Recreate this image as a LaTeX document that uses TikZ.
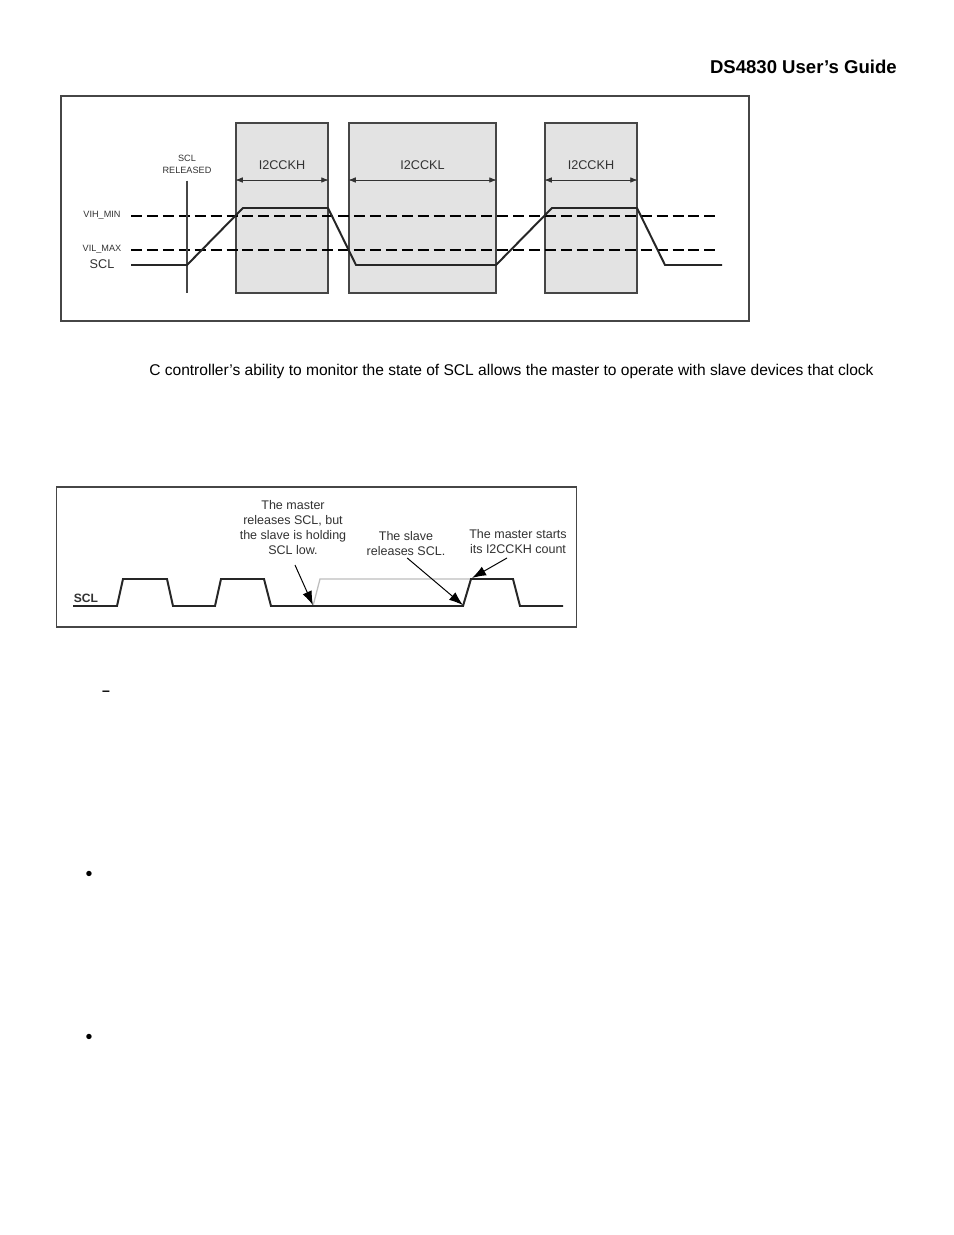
\documentclass[tikz,border=0pt]{standalone}
\usepackage{fontspec}
\setmainfont{Liberation Sans}
\usepackage{xcolor}
\usetikzlibrary{arrows.meta,positioning,calc}
\definecolor{boxgray}{RGB}{227,227,227}
\definecolor{edgegray}{RGB}{70,70,70}
\definecolor{tracegray}{RGB}{190,190,190}
\definecolor{inkgray}{RGB}{50,50,50}

\begin{document}
\begin{tikzpicture}[
    frame/.style={draw=edgegray, line width=0.9pt},
    pulsebox/.style={draw=edgegray, fill=boxgray, line width=0.9pt, minimum height=4.25cm},
    threshold/.style={line width=1.7pt, dash pattern=on 7.8pt off 3.53pt, black},
    trace/.style={line width=1.4pt, black!85},
    dim/.style={Latex-Latex, line width=0.5pt, inkgray},
    callout/.style={-{Latex[length=10pt,width=7pt]}, line width=0.7pt, black},
    label/.style={font=\fontsize{9pt}{11pt}\selectfont, text=inkgray},
    smalltext/.style={font=\fontsize{6.5pt}{8pt}\selectfont, text=inkgray, align=center},
    note/.style={font=\fontsize{8.9pt}{10.7pt}\selectfont, text=inkgray, align=center, inner sep=0pt},
    page/.style={font=\fontsize{11.07pt}{13pt}\selectfont, text=black, inner sep=0pt}
]
\useasboundingbox (0,0) rectangle (23.85,-30.875);
\fill[white] (0,0) rectangle (23.85,-30.875);

% page text
\node[page, font=\fontsize{13.2pt}{15pt}\selectfont\bfseries, anchor=east] (title) at (22.425,-1.675) {DS4830 User’s Guide};
\node[page, anchor=west] (para) at (3.725,-9.28) {C controller’s ability to monitor the state of SCL allows the master to operate with slave devices that clock};
\node[page, font=\bfseries] (dash) at (2.65,-17.33) {–};
\node[page, font=\fontsize{14pt}{16pt}\selectfont] (bulleta) at (2.225,-21.9) {•};
\node[page, font=\fontsize{14pt}{16pt}\selectfont] (bulletb) at (2.225,-25.98) {•};

% upper figure
\node[frame, minimum width=17.2cm, minimum height=5.625cm] (upper) at (10.125,-5.2125) {};
\node[pulsebox, minimum width=2.3cm] (higha) at (7.05,-5.2) {};
\node[pulsebox, minimum width=3.675cm] (lowa) at (10.5625,-5.2) {};
\node[pulsebox, minimum width=2.3cm] (highb) at (14.775,-5.2) {};

\coordinate (dimline) at (0,-4.5);
\foreach \pulse/\name in {higha/I2CCKH, lowa/I2CCKL, highb/I2CCKH} {
    \node[label] (\pulse text) at ($(\pulse.center)+(0,1.075)$) {\name};
    \draw[dim] (\pulse.west |- dimline) -- (\pulse.east |- dimline);
}

\node[smalltext] (released) at (4.675,-4.11) {SCL\\RELEASED};
\node[smalltext] (vihlabel) at (2.55,-5.375) {VIH\_MIN};
\node[smalltext] (villabel) at (2.55,-6.225) {VIL\_MAX};
\node[label] (scla) at (2.55,-6.6) {SCL};

\draw[threshold] (3.275,-5.4) -- (17.925,-5.4);
\draw[threshold] (3.275,-6.25) -- (17.925,-6.25);
\draw[line width=0.8pt, edgegray] ([yshift=-0.06cm]released.south) -- (4.675,-7.325);
\draw[trace] (3.275,-6.625) -- (4.675,-6.625) -- (6.075,-5.2) -- (8.2,-5.2) -- (8.9,-6.625)
    -- (12.4,-6.625) -- (13.8,-5.2) -- (15.925,-5.2) -- (16.625,-6.625) -- (18.05,-6.625);

% lower figure
\node[frame, minimum width=13cm, minimum height=3.5cm] (lower) at (7.9125,-13.925) {};
\node[label, font=\fontsize{8.6pt}{10pt}\selectfont\bfseries] (sclb) at (2.15,-14.95) {SCL};
\node[note] (masterrel) at (7.325,-13.19) {The master\\releases SCL, but\\the slave is holding\\SCL low.};
\node[note] (slaverel) at (10.15,-13.59) {The slave\\releases SCL.};
\node[note] (masterstart) at (12.95,-13.54) {The master starts\\its I2CCKH count};

\draw[line width=0.9pt, tracegray] (7.825,-15.15) -- (8,-14.475) -- (11.775,-14.475);
\draw[trace] (1.825,-15.15) -- (2.925,-15.15) -- (3.075,-14.475) -- (4.175,-14.475) -- (4.325,-15.15)
    -- (5.375,-15.15) -- (5.525,-14.475) -- (6.6,-14.475) -- (6.775,-15.15) -- (11.575,-15.15)
    -- (11.775,-14.475) -- (12.825,-14.475) -- (13,-15.15) -- (14.075,-15.15);

\coordinate (tipa) at (7.825,-15.13);
\coordinate (tipb) at (11.575,-15.13);
\coordinate (tipc) at (11.8,-14.45);
\draw[callout] ([shift={(0.05,-0.25)}]masterrel.south) -- (tipa);
\draw[callout] ([shift={(0.03,-0.05)}]slaverel.south) -- (tipb);
\draw[callout] ([shift={(-0.275,-0.1)}]masterstart.south) -- (tipc);
\end{tikzpicture}
\end{document}
